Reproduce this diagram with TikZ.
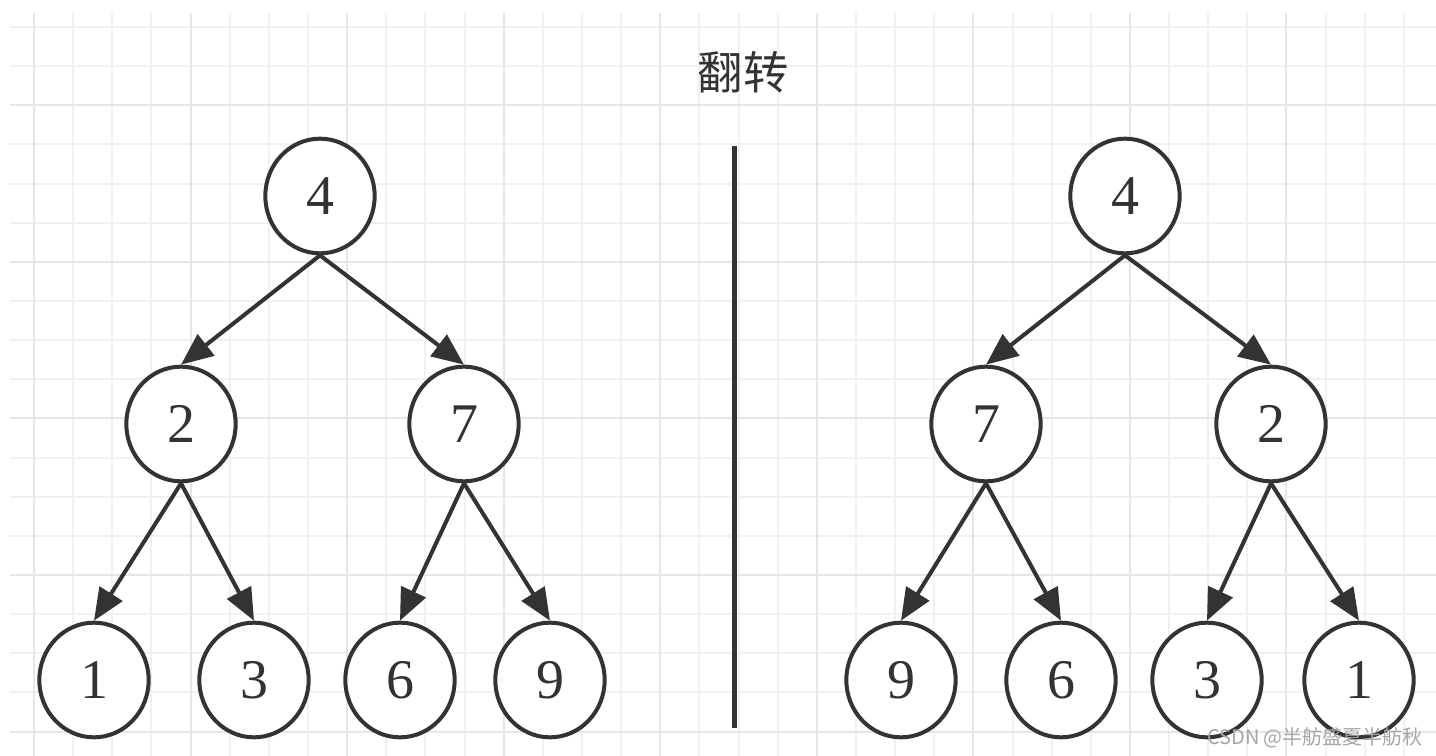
\documentclass[tikz,border=0pt]{standalone}
\usepackage{fontspec}
\setmainfont{Liberation Serif}
\newfontfamily\cjk{Noto Sans CJK SC}
\usepackage{tikz}
\usetikzlibrary{arrows.meta,shapes.geometric}
\definecolor{ink}{HTML}{333333}
\definecolor{gridlt}{HTML}{F1F1F1}
\definecolor{griddk}{HTML}{E6E6E6}
\tikzset{
  nd/.style={draw=ink, ellipse, line width=3pt, fill=white, text=ink,
             minimum width=82pt, minimum height=86pt, inner sep=0pt,
             font=\fontsize{42}{42}\selectfont},
  flow/.style={-{Triangle[length=24pt,width=20pt]}, draw=ink, line width=3pt},
  gmin/.style={draw=gridlt, line width=1.5pt},
  gmaj/.style={draw=griddk, line width=1.5pt},
}

\begin{document}
\begin{tikzpicture}[x=0.75pt, y=-0.75pt]
  \useasboundingbox[fill=white] (0,0) rectangle (1436,756);
  % grid
  \foreach \k in {0,...,35} \draw[gmin] ({34+39.14*\k},13) -- ({34+39.14*\k},756);
  \foreach \k in {0,...,18} \draw[gmin] (10,{27+39.14*\k}) -- (1436,{27+39.14*\k});
  \foreach \k in {0,4,...,32} \draw[gmaj] ({34+39.14*\k},13) -- ({34+39.14*\k},756);
  \foreach \k in {2,6,...,18} \draw[gmaj] (10,{27+39.14*\k}) -- (1436,{27+39.14*\k});

  \node[text=ink, font=\cjk\fontsize{34}{34}\selectfont] (title) at (743,72) {翻转};
  \coordinate (sepTop) at (734.5,146);
  \coordinate (sepBot) at (734.5,728);
  \draw[draw=ink, line width=3.75pt] (sepTop) -- (sepBot);

  % before
  \node[nd] (a4) at (320,196) {4};
  \node[nd] (a2) at (181,424) {2};
  \node[nd] (a7) at (464,424) {7};
  \node[nd] (a1) at (94,680) {1};
  \node[nd] (a3) at (254,680) {3};
  \node[nd] (a6) at (400,680) {6};
  \node[nd] (a9) at (550,680) {9};
  \draw[flow] (a4.south) -- (a2.north);
  \draw[flow] (a4.south) -- (a7.north);
  \draw[flow] (a2.south) -- (a1.north);
  \draw[flow] (a2.south) -- (a3.north);
  \draw[flow] (a7.south) -- (a6.north);
  \draw[flow] (a7.south) -- (a9.north);

  % after
  \node[nd] (b4) at (1125,196) {4};
  \node[nd] (b7) at (986,424) {7};
  \node[nd] (b2) at (1271,424) {2};
  \node[nd] (b9) at (901,680) {9};
  \node[nd] (b6) at (1061,680) {6};
  \node[nd] (b3) at (1207,680) {3};
  \node[nd] (b1) at (1359,680) {1};
  \draw[flow] (b4.south) -- (b7.north);
  \draw[flow] (b4.south) -- (b2.north);
  \draw[flow] (b7.south) -- (b9.north);
  \draw[flow] (b7.south) -- (b6.north);
  \draw[flow] (b2.south) -- (b3.north);
  \draw[flow] (b2.south) -- (b1.north);

  \node[text=black!35, font=\cjk\fontsize{15}{15}\selectfont] (mark) at (1315,738) {CSDN @半舫盛夏半舫秋};
\end{tikzpicture}
\end{document}
